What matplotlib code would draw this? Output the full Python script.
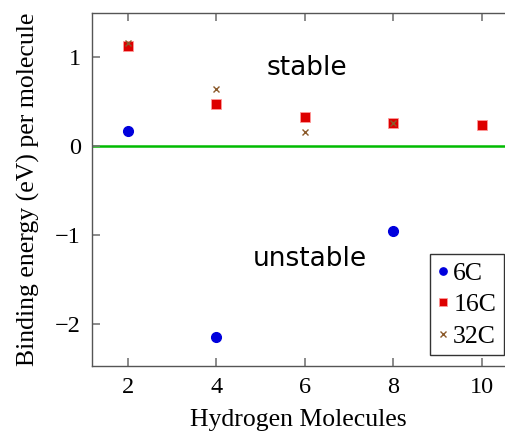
import matplotlib
matplotlib.use("Agg")
import matplotlib.pyplot as plt

x6 = [2, 4, 8]
y6 = [0.17, -2.15, -0.955]
x16 = [2, 4, 6, 8, 10]
y16 = [1.12, 0.47, 0.32, 0.26, 0.23]
x32 = [2, 4, 6, 8]
y32 = [1.15, 0.64, 0.16, 0.26]

plt.rcParams['font.family'] = ['Liberation Serif', 'DejaVu Serif']
fig = plt.figure(figsize=(5.05, 4.33), dpi=100)
ax = fig.add_axes([0.182, 0.155, 0.818, 0.814])

ax.axhline(0, color='#00bb00', lw=1.8, zorder=1)
ax.plot(x6, y6, 'o', color='#0000dd', ms=7, ls='none', label='6C', zorder=3)
ax.plot(x16, y16, 's', color='#dd0000', ms=7, mec='#ff9999', mew=0.6, ls='none', label='16C', zorder=3)
ax.plot(x32, y32, 'x', color='#8b5a2b', ms=5, mew=1.0, ls='none', label='32C', zorder=4)

ax.set_xlim(1.186, 10.52)
ax.set_ylim(-2.47, 1.485)
ax.set_xticks([2, 4, 6, 8, 10])
ax.set_yticks([-2, -1, 0, 1])

for s in ['left', 'bottom', 'top']:
    ax.spines[s].set_color('#555555')
    ax.spines[s].set_linewidth(1.0)
ax.spines['right'].set_visible(False)
ax.tick_params(direction='in', length=6, width=1.2, color='#777777', labelsize=17.5, top=True, right=False, pad=8)

ax.set_xlabel('Hydrogen Molecules', fontsize=18.5, labelpad=8)
ax.set_ylabel('Binding energy (eV) per molecule', fontsize=18.5, labelpad=11)

ax.text(6.05, 0.87, 'stable', family='DejaVu Sans', fontsize=19, ha='center', va='center')
ax.text(6.1, -1.27, 'unstable', family='DejaVu Sans', fontsize=19, ha='center', va='center')

leg = ax.legend(loc='lower right', bbox_to_anchor=(0.997, 0.03), fontsize=18.5, frameon=True,
                fancybox=False, edgecolor='black', handlelength=0.4, handletextpad=0.2,
                borderpad=0.3, labelspacing=0.33, markerscale=0.75, borderaxespad=0)
leg.get_frame().set_linewidth(1.0)

fig.savefig('out.png', dpi=100)
